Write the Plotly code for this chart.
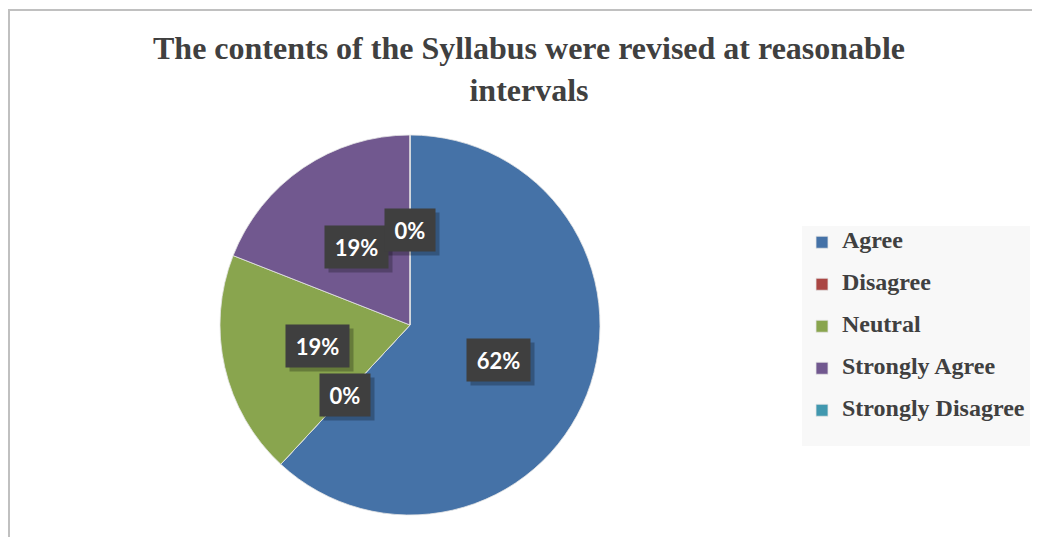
import plotly.graph_objects as go
import numpy as np

# - - - - - - - - - - - - - - - - - - - - - - - - - -
# Syllabus revision survey - pie chart
# - - - - - - - - - - - - - - - - - - - - - - - - - -

labels = ['Agree', 'Disagree', 'Neutral', 'Strongly Agree', 'Strongly Disagree']
counts = [13, 0, 4, 4, 0]
colors = ['#4572A7', '#AA4643', '#89A54E', '#71588F', '#4198AF']
title = 'The contents of the Syllabus were revised at reasonable<br>intervals'

# page body has an 8px margin, so the figure is a bit smaller than the window
OFF = 8
W, H = 1040 - OFF, 537 - OFF

def px_x(p):
	return (p - OFF) / W

def px_y(p):
	return 1 - (p - OFF) / H

# pie area in page pixels (left, top, size)
pie_left, pie_top, pie_size = 220, 135, 380
dom_x = [px_x(pie_left), px_x(pie_left + pie_size)]
dom_y = [px_y(pie_top + pie_size), px_y(pie_top)]

leg_labels = ['<span style="font-size:24px"><b>' + l + '</b></span><br>&nbsp;' for l in labels]

fig = go.Figure()
fig.add_trace(go.Pie(
	labels=leg_labels, values=counts, sort=False, direction='clockwise', rotation=0,
	marker=dict(colors=colors, line=dict(color='#e6e6e6', width=0.8)),
	textinfo='none', hoverinfo='percent', name='',
	domain=dict(x=dom_x, y=dom_y),
))

# = = = = = = = = = data labels (dark boxes) = = = = = = = = =

vals = np.array(counts, dtype=float)
frac = vals / vals.sum()
ends = np.cumsum(frac)
mids = (ends - frac / 2) * 2 * np.pi   # clockwise from 12 o'clock
pct = [str(int(round(f * 100))) + '%' for f in frac]

cx = (dom_x[0] + dom_x[1]) / 2
cy = (dom_y[0] + dom_y[1]) / 2
r_lab = 0.5 * pie_size / 2

for k in range(len(labels)):
	ax = cx + r_lab * np.sin(mids[k]) / W
	ay = cy + r_lab * np.cos(mids[k]) / H
	bw = 10 + 13 * len(pct[k])
	# shadow
	fig.add_annotation(x=ax, y=ay, xref='paper', yref='paper', text='<b>' + pct[k] + '</b>',
		xanchor='center', yanchor='middle', width=bw, height=28,
		showarrow=False, bgcolor='rgba(0,0,0,0.25)', borderpad=7, xshift=4, yshift=-4,
		font=dict(family='Lato', size=22, color='rgba(0,0,0,0)'))
	fig.add_annotation(x=ax, y=ay, xref='paper', yref='paper', text='<b>' + pct[k] + '</b>',
		xanchor='center', yanchor='middle', width=bw, height=28,
		showarrow=False, bgcolor='#3f3f3f', borderpad=7,
		font=dict(family='Lato', size=22, color='white'))

# = = = = = = = = = frame = = = = = = = = =

fig.add_shape(type='rect', xref='paper', yref='paper', x0=1 / W, x1=1.05, y0=-0.05, y1=px_y(10),
	line=dict(color='#c0c0c0', width=2), layer='below')

fig.update_layout(
	width=W, height=H,
	margin=dict(l=0, r=0, t=0, b=0),
	paper_bgcolor='white',
	title=dict(text='<b>' + title + '</b>', x=px_x(529), xanchor='center', y=px_y(59), yanchor='middle',
		font=dict(family='Liberation Serif', size=32, color='#404040')),
	showlegend=True,
	legend=dict(x=px_x(802), xanchor='left', y=px_y(336), yanchor='middle', bgcolor='#f8f8f8',
		font=dict(family='Liberation Serif', size=15, color='#404040'),
		valign='top', itemclick=False, itemdoubleclick=False),
)

fig.write_html("out.html")
